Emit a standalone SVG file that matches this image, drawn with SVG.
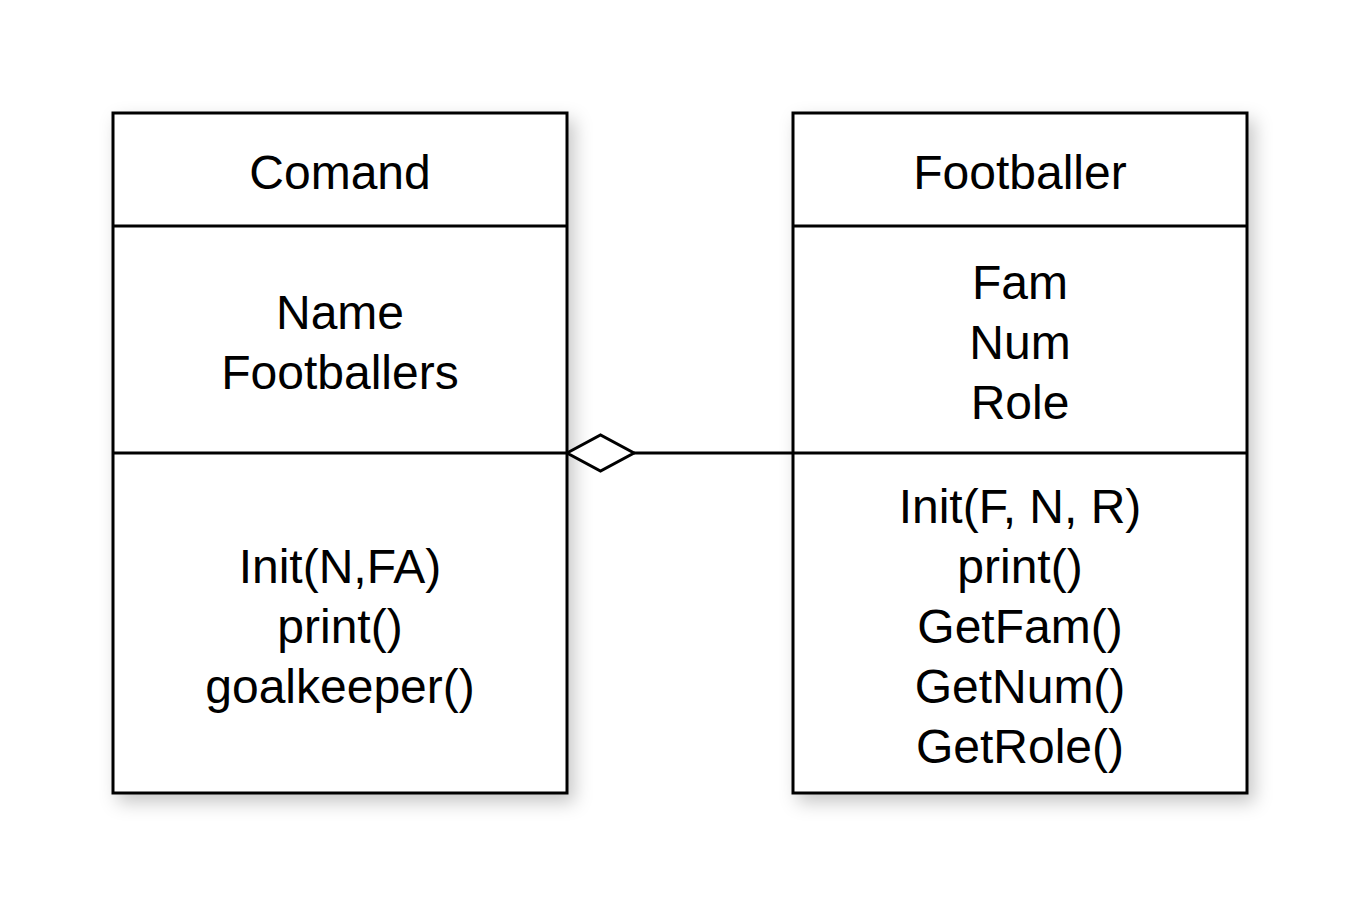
<svg xmlns="http://www.w3.org/2000/svg" width="1360" height="908" viewBox="0 0 1360 908">
<defs>
<filter id="sh" x="-10%" y="-10%" width="130%" height="130%">
<feDropShadow dx="6" dy="8" stdDeviation="9" flood-color="#000" flood-opacity="0.22"/>
</filter>
</defs>
<style>
.box{fill:#fff;stroke:#000;stroke-width:3}
.ln{stroke:#000;stroke-width:3;fill:none}
text{font-family:"Liberation Sans",Arial,sans-serif;font-size:48px;fill:#000;text-anchor:middle}
</style>
<rect width="1360" height="908" fill="#fff"/>
<g id="comand">
<rect class="box" x="113" y="113" width="454" height="680" filter="url(#sh)"/>
<line class="ln" x1="113" y1="226" x2="567" y2="226"/>
<line class="ln" x1="113" y1="453" x2="567" y2="453"/>
<text x="340" y="189">Comand</text>
<text x="340" y="329">Name</text>
<text x="340" y="389">Footballers</text>
<text x="340" y="583">Init(N,FA)</text>
<text x="340" y="643">print()</text>
<text x="340" y="703">goalkeeper()</text>
</g>
<g id="footballer">
<rect class="box" x="793" y="113" width="454" height="680" filter="url(#sh)"/>
<line class="ln" x1="793" y1="226" x2="1247" y2="226"/>
<line class="ln" x1="793" y1="453" x2="1247" y2="453"/>
<text x="1020" y="189">Footballer</text>
<text x="1020" y="299">Fam</text>
<text x="1020" y="359">Num</text>
<text x="1020" y="419">Role</text>
<text x="1020" y="523">Init(F, N, R)</text>
<text x="1020" y="583">print()</text>
<text x="1020" y="643">GetFam()</text>
<text x="1020" y="703">GetNum()</text>
<text x="1020" y="763">GetRole()</text>
</g>
<g id="connectors">
<line class="ln" x1="634" y1="453" x2="793" y2="453"/>
<polygon points="567,453 600.5,435 634,453 600.5,471" fill="#fff" stroke="#000" stroke-width="3"/>
</g>
</svg>
